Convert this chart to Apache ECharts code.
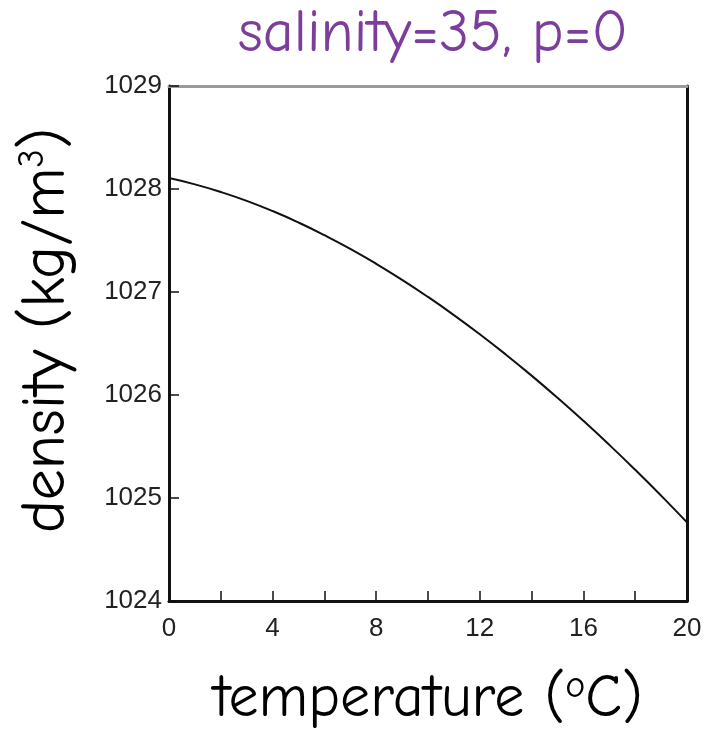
<!DOCTYPE html>
<html>
<head>
<meta charset="utf-8">
<script src="https://cdn.jsdelivr.net/npm/echarts@6/dist/echarts.min.js"></script>
<style>
  html, body { margin: 0; padding: 0; background: #fff; }
  #chart { width: 706px; height: 729px; }
</style>
</head>
<body>
<div id="chart"></div>
<script>
// Seawater density at salinity 35, surface pressure, one point per degree C
const temperature = [0, 1, 2, 3, 4, 5, 6, 7, 8, 9, 10, 11, 12, 13, 14, 15, 16, 17, 18, 19, 20];
const density = [
  1028.106, 1028.045, 1027.971, 1027.885, 1027.786, 1027.675, 1027.552,
  1027.419, 1027.274, 1027.118, 1026.952, 1026.776, 1026.590, 1026.394,
  1026.188, 1025.973, 1025.749, 1025.516, 1025.274, 1025.023, 1024.763
];
const xTickLabels = ['0', '4', '8', '12', '16', '20'];
const yTickLabels = ['1024', '1025', '1026', '1027', '1028', '1029'];

const titleText = 'salinity=35, p=0';
const xName = 'temperature (';
const yName = 'density (kg/m';

const handFont = '"Comic Sans MS", "Comic Neue", Lato, "Noto Sans", sans-serif';
const tickFont = '"Liberation Sans", Arial, sans-serif';

const chart = echarts.init(document.getElementById('chart'), null, { renderer: 'canvas' });

const tickStyle = {
  show: true, inside: true, length: 10,
  lineStyle: { color: '#111', width: 1.5 }
};

chart.setOption({
  animation: false,
  backgroundColor: '#fff',
  title: {
    text: titleText,
    left: 428,
    top: -1,
    textAlign: 'center',
    textStyle: { color: '#7b3f9b', fontFamily: handFont, fontSize: 60, fontWeight: 'normal' }
  },
  grid: { left: 169, right: 19, top: 86, bottom: 128, containLabel: false, outerBoundsMode: 'none' },
  xAxis: [{
    type: 'value',
    position: 'bottom',
    min: 0, max: 20, interval: 2,
    axisLine: { show: true, onZero: false, lineStyle: { color: '#111', width: 3 } },
    axisTick: tickStyle,
    splitLine: { show: false },
    axisLabel: {
      margin: 15,
      color: '#222',
      fontFamily: tickFont,
      fontSize: 26,
      formatter: v => xTickLabels.indexOf(String(v)) >= 0 ? String(v) : ''
    },
    name: '{t|' + xName + '}{s|o}{t|C)}',
    nameLocation: 'middle',
    nameGap: 66,
    nameTextStyle: {
      rich: {
        t: { fontFamily: handFont, fontSize: 60, color: '#000' },
        s: { fontFamily: handFont, fontSize: 38, color: '#000', verticalAlign: 'top', padding: [0, 0, 26, 0] }
      }
    }
  }, {
    type: 'value',
    position: 'top',
    min: 0, max: 20,
    axisLine: { show: true, onZero: false, lineStyle: { color: '#9a9a9a', width: 3 } },
    axisTick: { show: false },
    axisLabel: { show: false },
    splitLine: { show: false }
  }],
  yAxis: [{
    type: 'value',
    position: 'left',
    min: 1024, max: 1029, interval: 1,
    axisLine: { show: true, onZero: false, lineStyle: { color: '#111', width: 3 } },
    axisTick: tickStyle,
    splitLine: { show: false },
    axisLabel: {
      margin: 7,
      color: '#222',
      fontFamily: tickFont,
      fontSize: 26,
      formatter: v => yTickLabels.indexOf(String(v)) >= 0 ? String(v) : ''
    },
    name: '{t|' + yName + '}{s|3}{t|)}',
    nameLocation: 'middle',
    nameRotate: 90,
    nameGap: 92,
    nameTextStyle: {
      padding: [0, 0, 0, 26],
      rich: {
        t: { fontFamily: handFont, fontSize: 62, color: '#000' },
        s: { fontFamily: handFont, fontSize: 36, color: '#000', verticalAlign: 'top', padding: [0, 0, 26, 0] }
      }
    }
  }, {
    type: 'value',
    position: 'right',
    min: 1024, max: 1029,
    axisLine: { show: true, onZero: false, lineStyle: { color: '#111', width: 3 } },
    axisTick: { show: false },
    axisLabel: { show: false },
    splitLine: { show: false }
  }],
  series: [{
    type: 'line',
    xAxisIndex: 0,
    yAxisIndex: 0,
    data: temperature.map((t, i) => [t, density[i]]),
    smooth: true,
    showSymbol: false,
    lineStyle: { color: '#111', width: 2 }
  }]
});
</script>
</body>
</html>
